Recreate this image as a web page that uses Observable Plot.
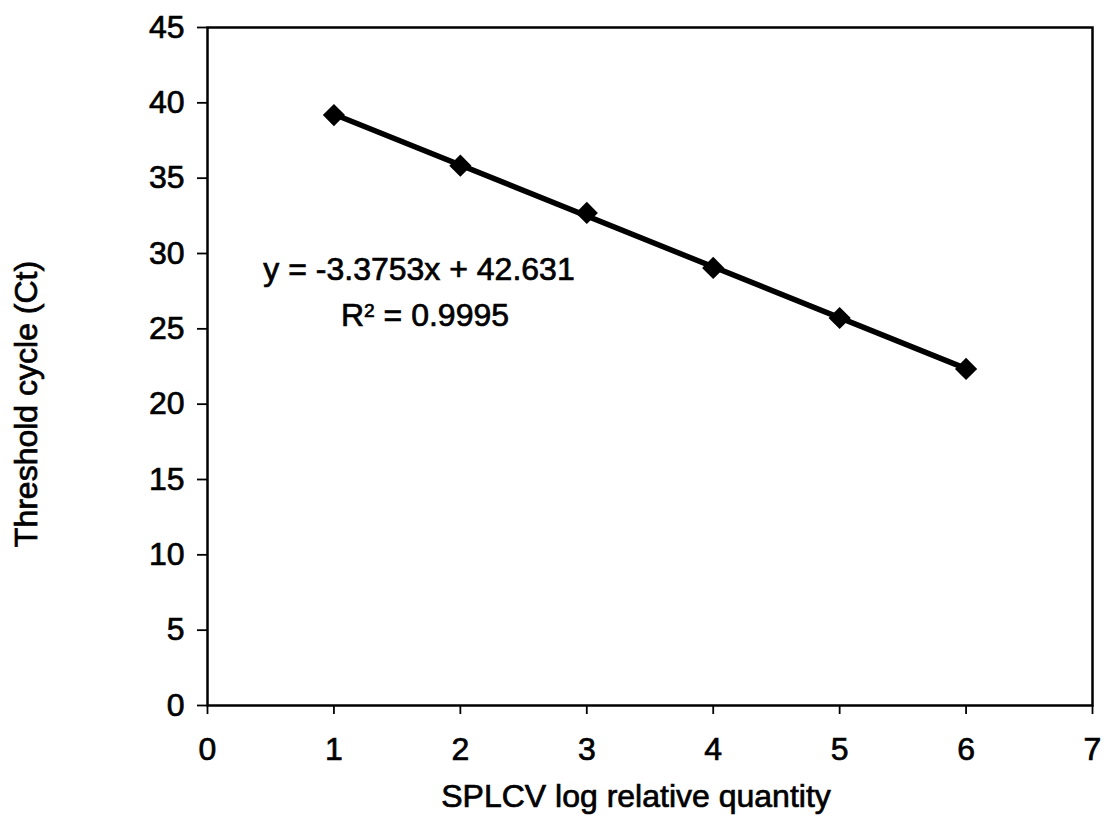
<!DOCTYPE html>
<html>
<head>
<meta charset="utf-8">
<script src="https://cdn.jsdelivr.net/npm/d3@7"></script>
<script src="https://cdn.jsdelivr.net/npm/@observablehq/plot@0.6"></script>
<style>
  html, body { margin: 0; padding: 0; background: #fff; }
  svg { display: block; }
  svg text { stroke: #000; stroke-width: 0.7px; }
</style>
</head>
<body>
<div id="chart"></div>
<script>
// Data
const logQuantity = [1, 2, 3, 4, 5, 6];
const thresholdCycle = [39.19, 35.83, 32.69, 29.04, 25.72, 22.34];
const xTicks = [0, 1, 2, 3, 4, 5, 6, 7];
const yTicks = [0, 5, 10, 15, 20, 25, 30, 35, 40, 45];
const equationLines = ["y = -3.3753x + 42.631", "R2 = 0.9995"];
const equationX = [1.673, 1.72];
const equationY = [28.27, 25.22];
const xTitle = "SPLCV log relative quantity";
const yTitle = "Threshold cycle (Ct)";

const data = logQuantity.map((x, i) => ({x, y: thresholdCycle[i]}));
const eqData = equationLines.map((t, i) => ({t, x: equationX[i], y: equationY[i]}));

const FS = 32;
const W = 1104, H = 819;
const plot = Plot.plot({
  width: W,
  height: H,
  marginLeft: 207,
  marginRight: 12,
  marginTop: 27,
  marginBottom: 114,
  style: {fontFamily: "'Liberation Sans', Arial, sans-serif", fontSize: FS + "px", color: "#000", background: "#fff"},
  x: {domain: [0, 7]},
  y: {domain: [0, 45]},
  marks: [
    Plot.axisX({ticks: xTicks, tickFormat: d3.format("d"), tickSize: 9, tickPadding: 23, strokeWidth: 1.8, label: null, fontSize: FS}),
    Plot.axisY({ticks: yTicks, tickFormat: d3.format("d"), tickSize: 10, tickPadding: 13, strokeWidth: 1.8, label: null, fontSize: FS}),
    Plot.frame({stroke: "#000", strokeWidth: 2.5}),
    Plot.linearRegressionY(data, {x: "x", y: "y", ci: 0, stroke: "#000", strokeWidth: 5.5}),
    Plot.dot(data, {x: "x", y: "y", symbol: "diamond2", r: 10, fill: "#000", stroke: "none"}),
    Plot.text(eqData, {x: "x", y: "y", text: "t", textAnchor: "middle", lineAnchor: "bottom", fontSize: FS, fill: "#000"})
  ]
});

const svg = d3.select(plot);
// superscript the 2 in the R² line
svg.selectAll("text").filter(function() { return this.textContent === "R2 = 0.9995"; })
  .each(function() {
    const t = d3.select(this);
    t.text(null);
    t.append("tspan").text("R");
    t.append("tspan").attr("dy", "-0.45em").attr("font-size", "0.6em").text("2");
    t.append("tspan").attr("dy", "0.27em").text(" = 0.9995");
  });
svg.append("text")
  .attr("x", 636).attr("y", 807)
  .attr("text-anchor", "middle")
  .attr("font-size", FS)
  .attr("fill", "#000")
  .text(xTitle);
svg.append("text")
  .attr("transform", "translate(37,404) rotate(-90)")
  .attr("text-anchor", "middle")
  .attr("font-size", FS)
  .attr("fill", "#000")
  .text(yTitle);

document.getElementById("chart").appendChild(plot);
</script>
</body>
</html>
